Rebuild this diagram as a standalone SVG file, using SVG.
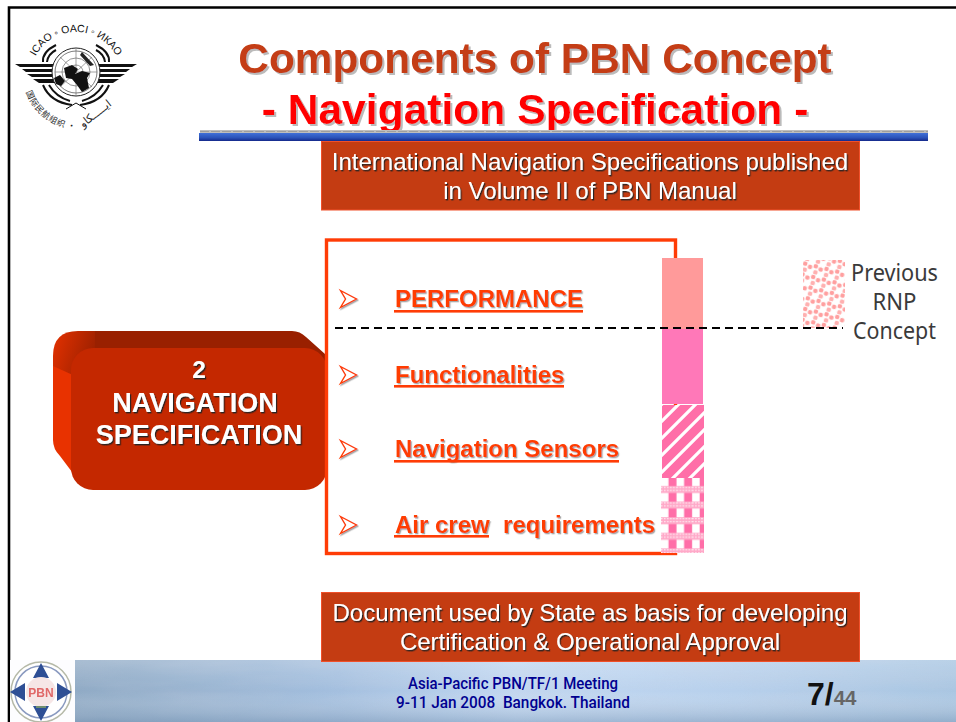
<svg xmlns="http://www.w3.org/2000/svg" width="956" height="722" viewBox="0 0 956 722">
<style>
.sans{font-family:"Liberation Sans",Arial,sans-serif}
.box{fill:#c43c12;stroke:#f0502a;stroke-width:1}
.boxt{font-family:"Liberation Sans",Arial,sans-serif;font-size:24px;fill:#fff;text-anchor:middle;filter:url(#sd)}
.item{font-family:"Liberation Sans",Arial,sans-serif;font-size:24px;font-weight:bold;fill:#ff3c06;filter:url(#sl)}
.nav{font-family:"Liberation Sans",Arial,sans-serif;font-weight:bold;fill:#fff;text-anchor:middle;filter:url(#sd)}
.foot{font-family:Roboto,sans-serif;font-size:16px;font-weight:500;fill:#000090;text-anchor:middle}
.prev{font-family:"Noto Sans",sans-serif;font-size:23px;fill:#3a3a3a;text-anchor:middle}
.bullet{fill:#fff;stroke:#ff3c06;stroke-width:1.4;filter:url(#sl)}
</style>
<defs>
<filter id="sd" x="-10%" y="-20%" width="120%" height="140%"><feDropShadow dx="1.2" dy="1.4" stdDeviation=".3" flood-color="#222" flood-opacity=".95"/></filter>
<filter id="sl" x="-10%" y="-20%" width="120%" height="140%"><feDropShadow dx="1.2" dy="1.3" stdDeviation=".4" flood-color="#999" flood-opacity=".85"/></filter>
<filter id="st" x="-10%" y="-20%" width="120%" height="140%"><feDropShadow dx="2" dy="2" stdDeviation=".6" flood-color="#aaa" flood-opacity=".8"/></filter>
<filter id="soft" x="-5%" y="-5%" width="110%" height="110%"><feGaussianBlur stdDeviation=".6"/></filter>
<filter id="cloud" x="0" y="0" width="100%" height="100%"><feTurbulence type="fractalNoise" baseFrequency=".012 .07" numOctaves="3" seed="4"/><feColorMatrix values="0 0 0 0 .55 0 0 0 0 .6 0 0 0 0 .72 .9 0 0 0 -.25"/></filter>
<linearGradient id="sky" x1="0" x2="1" y1="0" y2="0"><stop offset="0" stop-color="#8ea9c4"/><stop offset=".3" stop-color="#a3bfdf"/><stop offset=".5" stop-color="#c2d8f2"/><stop offset=".75" stop-color="#b7d0ec"/><stop offset="1" stop-color="#a9c6e2"/></linearGradient>
<linearGradient id="skyv" x1="0" x2="0" y1="0" y2="1"><stop offset="0" stop-color="#fff" stop-opacity=".2"/><stop offset=".5" stop-color="#fff" stop-opacity="0"/><stop offset="1" stop-color="#6f8cab" stop-opacity=".4"/></linearGradient>
<linearGradient id="rule" x1="0" x2="0" y1="0" y2="1"><stop offset="0" stop-color="#4070d8"/><stop offset=".6" stop-color="#2a52b8"/><stop offset="1" stop-color="#14288a"/></linearGradient>
<linearGradient id="corner" x1="0" x2="1" y1=".2" y2=".6"><stop offset="0" stop-color="#e03000"/><stop offset="1" stop-color="#992000"/></linearGradient>
<pattern id="dots" width="11" height="11" patternUnits="userSpaceOnUse" patternTransform="translate(803 260) rotate(14)"><rect width="11" height="11" fill="#fff"/><circle cx="3" cy="3" r="2.300" fill="#ff9f9f"/><circle cx="8.500" cy="5" r="2.300" fill="#ff9f9f"/><circle cx="4" cy="9" r="2.300" fill="#ffb0b0"/></pattern>
<pattern id="diag" width="17" height="17" patternUnits="userSpaceOnUse" patternTransform="translate(662 404)"><rect width="17" height="17" fill="#ff6ea8"/><path d="M-4 4 4-4M-4 21 21-4M13 21 21 13" stroke="#fff" stroke-width="3.200"/></pattern>
<pattern id="check" width="15.600" height="15.600" patternUnits="userSpaceOnUse" patternTransform="translate(661 478)"><rect width="15.600" height="15.600" fill="#fff"/><rect x="7.500" width="8" height="15.600" fill="#ff6ea8"/><rect y="8" width="15.600" height="7" fill="#ffa8c8"/><path d="M0 9.500h15.600M0 12.500h15.600" stroke="#fff" stroke-width="1" stroke-dasharray="1.500 1.500"/></pattern>
<path id="arcTop" d="M30 78A46 46 0 0 1 122 78" fill="none"/>
<path id="arcBot" d="M26 92A55 55 0 0 0 82 129" fill="none"/>
<path id="bul" d="M0 0 16 8.500 0 17 5 8.500Z"/>
</defs>
<rect width="956" height="722" fill="#fff"/>
<path d="M9 722V7.500H956" fill="none" stroke="#000" stroke-width="2.600"/>

<g id="logo">
<g fill="#111">
<path d="M15 64H58V67H20ZM22 69H58V72H26ZM27 74H58V77H32ZM33 79H58V83H39Z"/>
<path d="M137 64H94V67H132ZM130 69H94V72H126ZM125 74H94V77H120ZM119 79H94V83H113Z"/>
</g>
<circle cx="76" cy="72" r="24" fill="#fff" stroke="#222" stroke-width="1"/>
<circle cx="76" cy="72" r="21" fill="none" stroke="#444" stroke-width=".7"/>
<circle cx="76" cy="72" r="14" fill="none" stroke="#666" stroke-width=".7"/>
<circle cx="76" cy="72" r="7" fill="none" stroke="#666" stroke-width=".7"/>
<path d="M55 72H97M76 49V96M60 57 92 87M92 57 60 87" stroke="#666" stroke-width=".6"/>
<path d="M64 68 72 65 78 69 75 74 82 71 90 73 87 78 89 88 82 92 77 85 72 79 66 78ZM54 78 60 75 65 81 61 86 56 84Z" fill="#111"/>
<path d="M82 52 94 65 90 66 80 55Z" fill="#222"/>
<g fill="none" stroke="#111" stroke-width="2">
<path d="M43 62Q42 52 56 45M47 62Q48 54 56 50"/>
<path d="M109 62Q110 52 96 45M105 62Q104 54 96 50"/>
<path d="M43 85Q50 102 72 105M49 85Q56 97 70 101"/>
<path d="M109 85Q102 102 80 105M103 85Q96 97 82 101"/>
</g>
<path d="M66 109 76 103 86 109" fill="none" stroke="#111" stroke-width="1"/>
<text class="sans" font-size="10.500" fill="#111" text-anchor="middle"><textPath href="#arcTop" startOffset="50%">ICAO ◦ OACI ◦ ИКАО</textPath></text>
<text font-family="'Noto Sans CJK SC',sans-serif" font-size="8.500" fill="#222" letter-spacing=".6"><textPath href="#arcBot">国际民航组织 ·</textPath></text>
<text font-family="'DejaVu Sans',sans-serif" font-size="11" fill="#222" transform="translate(83 128) rotate(-38)">ايـــــكاو</text>
</g>

<g id="title">
<text class="sans" x="535" y="73" font-size="42.400" font-weight="bold" fill="#c43c12" text-anchor="middle" filter="url(#st)">Components of PBN Concept</text>
<text class="sans" x="535" y="124" font-size="42.600" font-weight="bold" fill="#ff0000" text-anchor="middle" filter="url(#st)">- Navigation Specification -</text>
<rect x="200" y="130" width="728" height="3.500" fill="#bdbdbd"/>
<path d="M200 131.500H928" stroke="#8a8a8a" stroke-width=".6" stroke-dasharray="9 2"/>
<rect x="199" y="133" width="729" height="8" fill="url(#rule)"/>
</g>

<g id="box-top">
<rect class="box" x="321.500" y="141.500" width="538" height="68.500"/>
<text class="boxt" x="590" y="170">International Navigation Specifications published</text>
<text class="boxt" x="590" y="199">in Volume II of PBN Manual</text>
</g>

<g id="nav-spec">
<path d="M90 331H292Q300 331 306 337L325 354V400H90Z" fill="#992000"/>
<path d="M53 356Q53 331 78 331H95V380H53Z" fill="url(#corner)"/>
<path d="M53 366 75 376 90 488 Q83 486 78 480L60 456Q53 449 53 440Z" fill="#e83200"/>
<rect x="71" y="348" width="256" height="142" rx="22" fill="#c42800"/>
<text class="nav" x="199" y="378" font-size="24.500">2</text>
<text class="nav" x="195" y="412" font-size="27">NAVIGATION</text>
<text class="nav" x="199" y="444" font-size="27">SPECIFICATION</text>
</g>

<g id="list">
<rect x="326.500" y="240" width="349" height="313.500" fill="none" stroke="#ff3c06" stroke-width="3.400"/>
<g id="item-performance">
<use href="#bul" class="bullet" x="340.500" y="290.500"/>
<text class="item" x="395" y="307">PERFORMANCE</text>
<rect x="394" y="310" width="189" height="2.600" fill="#ff3c06"/>
</g>
<g id="item-functionalities">
<use href="#bul" class="bullet" x="340.500" y="366.500"/>
<text class="item" x="395" y="383">Functionalities</text>
<rect x="394" y="385" width="170" height="2.600" fill="#ff3c06"/>
</g>
<g id="item-sensors">
<use href="#bul" class="bullet" x="340.500" y="440.500"/>
<text class="item" x="395" y="457">Navigation Sensors</text>
<rect x="394" y="460" width="225" height="2.600" fill="#ff3c06"/>
</g>
<g id="item-crew">
<use href="#bul" class="bullet" x="340.500" y="516.500"/>
<text class="item" x="395" y="533" xml:space="preserve">Air crew  requirements</text>
<rect x="394" y="535" width="95" height="2.600" fill="#ff3c06"/>
</g>
</g>

<g id="bars">
<rect x="662" y="258" width="41" height="71" fill="#ff9a9a"/>
<rect x="662" y="329" width="41" height="75" fill="#ff78b8"/>
<rect x="662" y="405" width="42" height="74" fill="url(#diag)"/>
<rect x="661" y="478" width="43" height="75" fill="url(#check)"/>
</g>

<g id="legend">
<rect x="803" y="260" width="42" height="68" fill="url(#dots)"/>
<text class="prev" x="894.500" y="281" textLength="87" lengthAdjust="spacingAndGlyphs">Previous</text>
<text class="prev" x="894.500" y="310" textLength="44" lengthAdjust="spacingAndGlyphs">RNP</text>
<text class="prev" x="894.500" y="339" textLength="83" lengthAdjust="spacingAndGlyphs">Concept</text>
</g>

<g id="connectors">
<path d="M335 328H843" fill="none" stroke="#000" stroke-width="1.800" stroke-dasharray="8 5"/>
</g>

<g id="footer">
<rect x="75" y="660" width="881" height="62" fill="url(#sky)"/>
<rect x="75" y="660" width="881" height="62" filter="url(#cloud)" opacity=".35"/>
<rect x="75" y="660" width="881" height="62" fill="url(#skyv)"/>
<g id="pbn-logo">
<rect x="10" y="660" width="65" height="62" fill="#fdfdff"/>
<g filter="url(#soft)">
<circle cx="41" cy="692" r="30" fill="#fff" stroke="#b5b9a8" stroke-width="1.500"/>
<circle cx="41" cy="692" r="26" fill="none" stroke="#8a9ac0" stroke-width="1.500"/>
<path d="M41 663 49 678H33ZM41 721 49 706H33ZM10 692 25 683V701ZM72 692 57 683V701Z" fill="#2e4f95"/>
<circle cx="41" cy="692" r="15" fill="#f6e6e6"/>
<text class="sans" x="41" y="697" font-size="12" font-weight="bold" fill="#e06868" text-anchor="middle">PBN</text>
<path d="M36 707H46" stroke="#6f8f6f" stroke-width="2"/>
</g>
</g>
<text class="foot" x="513" y="689" textLength="210" lengthAdjust="spacingAndGlyphs">Asia-Pacific PBN/TF/1 Meeting</text>
<text class="foot" x="513" y="708" textLength="234" lengthAdjust="spacingAndGlyphs" xml:space="preserve">9-11 Jan 2008  Bangkok. Thailand</text>
<text class="sans" x="807" y="705" font-size="32" font-weight="bold" fill="#111">7/<tspan font-size="20.500" fill="#666">44</tspan></text>
</g>

<g id="box-bottom">
<rect class="box" x="321.500" y="592.500" width="538" height="69"/>
<text class="boxt" x="590" y="621">Document used by State as basis for developing</text>
<text class="boxt" x="590" y="650">Certification &amp; Operational Approval</text>
</g>
</svg>
